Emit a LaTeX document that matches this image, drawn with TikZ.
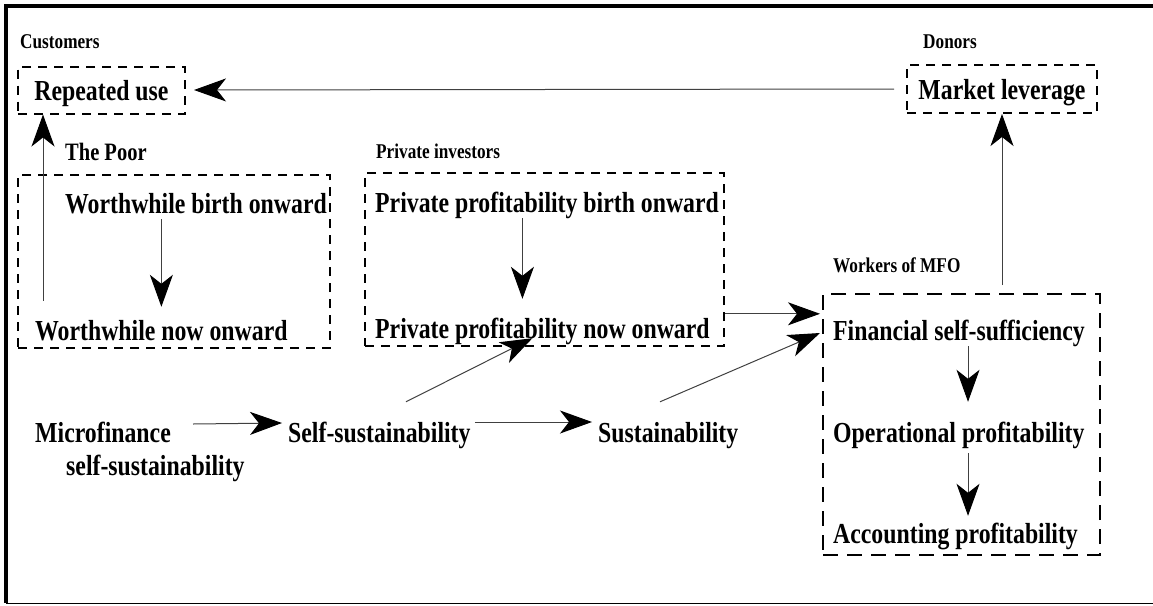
\documentclass[tikz,border=0pt]{standalone}
\usepackage{fontspec}
\setmainfont{Liberation Serif}[FakeStretch=0.82]
\usetikzlibrary{arrows.meta}

\tikzset{
  txt/.style={font=\fontsize{29}{33}\selectfont\bfseries, inner sep=0pt, anchor=base west, text height=20pt, text depth=6pt},
  lbl/.style={font=\fontsize{21}{23}\selectfont\bfseries, inner sep=0pt, anchor=base west},
  grp/.style={draw, line width=2pt, dash pattern=on 9pt off 7pt, inner sep=0pt},
  tbox/.style={grp, font=\fontsize{29}{33}\selectfont\bfseries, text height=20pt, text depth=0pt},
  arr/.style={-{Stealth[length=32pt, width=23pt, inset=9pt, color=black]}, line width=1pt, draw=black!75},
}

\begin{document}
\begin{tikzpicture}[x=1pt, y=-1pt]

    % Page size and the frame
    \useasboundingbox (0,0) rectangle (1153,605);
    \draw[line width=4pt] (1153,6) -- (6,6) -- (6,603);
    \draw[line width=1pt] (6,603) -- (1153,603);

    % Customers and donors
    \node[lbl] (cust) at (20,48) {Customers};
    \node[tbox, minimum width=167pt, minimum height=47pt] (rep) at (101.5,90) {Repeated use};
    \node[lbl] (don) at (923,48) {Donors};
    \node[tbox, minimum width=190pt, minimum height=48pt] (lev) at (1002,89) {Market leverage};

    % The poor
    \node[lbl, font=\fontsize{25}{27}\selectfont\bfseries] (poor) at (65,160) {The Poor};
    \node[grp, minimum width=312pt, minimum height=173pt] (poorbox) at (174,261.5) {};
    \node[txt] (wbirth) at (65,213) {Worthwhile birth onward};
    \node[txt] (wnow) at (35,340) {Worthwhile now onward};

    % Private investors
    \node[lbl] (inv) at (376,158) {Private investors};
    \node[grp, minimum width=359pt, minimum height=173pt] (invbox) at (544.5,259.5) {};
    \node[txt] (pbirth) at (375,212) {Private profitability birth onward};
    \node[txt] (pnow) at (375,338) {Private profitability now onward};

    % Workers of MFO
    \node[lbl] (work) at (833,272) {Workers of MFO};
    \node[grp, dash pattern=on 15pt off 9pt, minimum width=277pt, minimum height=261pt] (mfobox) at (961.5,424.5) {};
    \node[txt] (fin) at (833,340) {Financial self-sufficiency};
    \node[txt] (oper) at (833,442) {Operational profitability};
    \node[txt] (acct) at (833,543) {Accounting profitability};

    % Bottom row
    \node[font=\fontsize{29}{33}\selectfont\bfseries, inner sep=0pt, anchor=north west, align=left] (micro) at (35,422) {Microfinance\\\hspace*{31pt}self-sustainability};
    \node[txt] (selfs) at (288,442) {Self-sustainability};
    \node[txt] (sust) at (598,442) {Sustainability};

    % Arrows between the groups
    \draw[arr] ([xshift=-12pt]lev.west) -- ([xshift=8pt]rep.east);
    \draw[arr] ([shift={(8pt,19pt)}]wnow.north west) coordinate (up) -- (up |- rep.south);
    \draw[arr, shorten <=8pt] (mfobox.north -| lev.south) -- (lev.south);
    \coordinate (fin1) at ([yshift=6pt]fin.north west);
    \draw[arr, shorten >=13pt] (invbox.east |- fin1) -- (fin1);

    % Arrows inside the groups
    \draw[arr, shorten >=13pt] (wbirth.south -| wnow.north) -- (wnow.north);
    \path ([xshift=-20pt]pnow.north) coordinate (p1);
    \draw[arr, shorten >=19pt] (p1 |- pbirth.south) -- (p1);
    \draw[arr, shorten >=20pt] ([xshift=9pt]fin.south) coordinate (f1) -- (f1 |- oper.north);
    \draw[arr, shorten <=5pt, shorten >=7pt] (f1 |- oper.south) -- (f1 |- acct.north);

    % Arrows of the bottom row
    \draw[arr] ([shift={(158pt,-2pt)}]micro.north west) -- ([shift={(-6pt,12pt)}]selfs.west);
    \draw[arr] ([shift={(4pt,13pt)}]selfs.east) -- ([shift={(-6pt,13pt)}]sust.west);
    \draw[arr] ([shift={(118pt,20pt)}]selfs.north west) -- ([shift={(-10pt,6pt)}]pnow.south);
    \draw[arr] ([shift={(62pt,20pt)}]sust.north west) -- ([xshift=-13pt]fin.west);

\end{tikzpicture}
\end{document}
